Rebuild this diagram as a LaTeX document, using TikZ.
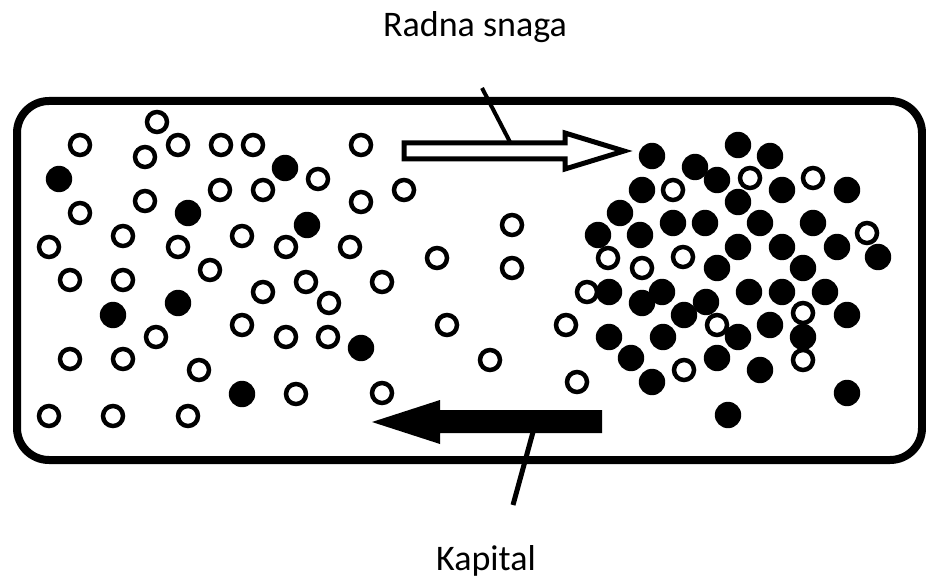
\documentclass[tikz,border=0pt]{standalone}
\usepackage{fontspec}
\setmainfont{Carlito}
\begin{document}
\begin{tikzpicture}[x=1pt,y=-1pt,
	emptydot/.style={draw=black,fill=white,line width=4.5pt},
	fulldot/.style={fill=black},
	tag/.style={font=\fontsize{36}{40}\selectfont,anchor=base,inner sep=0pt}]
	\useasboundingbox (0,0) rectangle (926,580);
	% box
	\draw[line width=8pt,rounded corners=32pt] (17,101) rectangle (922,460);
	% filled dots
	\foreach \x/\y in {59/179,285/168,188/213,307/225,113/315,178/303,361/348,242/394,
		652/156,738/145,770/156,695/167,717/180,782/190,847/190,642/190,738/202,620/213,
		673/223,705/223,760/223,813/223,598/235,640/235,878/257,738/247,782/247,837/247,
		717/268,803/268,609/292,642/303,662/292,749/292,782/292,825/292,706/302,684/315,
		847/315,770/325,738/337,803/337,609/337,663/337,631/358,717/358,760/370,652/382,
		847/393,728/415}
		\fill[fulldot] (\x,\y) circle[radius=13.2pt];
	% empty dots
	\foreach \x/\y in {157/122,80/145,145/157,178/145,221/145,253/145,361/145,318/179,
		80/213,145/201,220/190,263/190,361/202,404/190,49/247,123/236,178/247,242/236,
		286/247,350/247,437/258,512/225,512/268,70/280,123/280,210/270,263/292,306/282,
		329/303,382/282,156/337,242/325,286/337,328/337,447/325,566/325,70/359,123/359,
		199/370,490/360,296/394,382/393,577/382,49/416,113/416,188/416,
		587/292,673/190,750/178,813/178,867/233,608/258,642/268,683/257,717/325,
		803/313,684/370,803/360}
		\draw[emptydot] (\x,\y) circle[radius=10pt];
	% labour arrow
	\draw[line width=5pt,fill=white] (404,143) -- (565,143) -- (565,133) -- (624,151)
		-- (565,169) -- (565,159) -- (404,159) -- cycle;
	\node[tag] (radna) at (475,37) {Radna snaga};
	\coordinate (radnaend) at (482,88);
	\coordinate (radnaarrow) at (510,142);
	\draw[line width=4pt] (radnaend) -- (radnaarrow);
	% capital arrow
	\fill (602,410) -- (440,410) -- (440,400) -- (372,422) -- (440,444) -- (440,433)
		-- (602,433) -- cycle;
	\node[tag] (kapital) at (486,570) {Kapital};
	\coordinate (kapitalarrow) at (533,432);
	\coordinate (kapitalend) at (513,505);
	\draw[line width=5pt] (kapitalarrow) -- (kapitalend);
\end{tikzpicture}
\end{document}
